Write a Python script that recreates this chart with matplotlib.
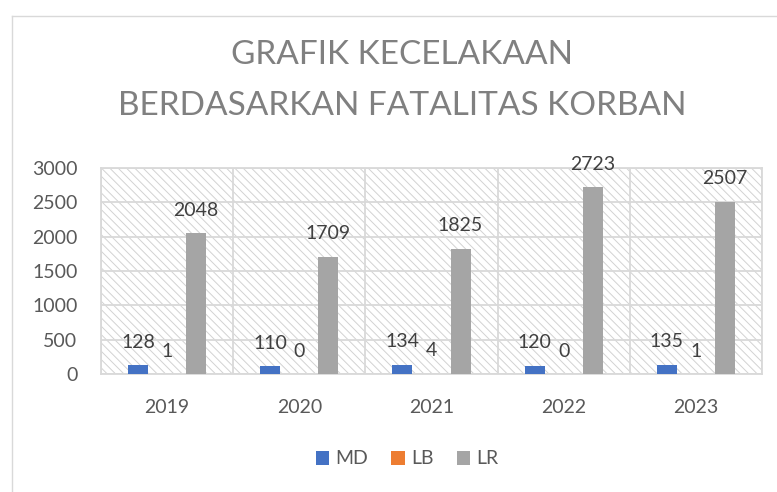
import matplotlib
matplotlib.use("Agg")
import matplotlib.pyplot as plt
import numpy as np
from matplotlib.patches import Rectangle
from matplotlib.lines import Line2D

plt.rcParams['font.family'] = ['Lato', 'DejaVu Sans']
plt.rcParams['hatch.linewidth'] = 0.7

years = ["2019", "2020", "2021", "2022", "2023"]
series_names = ["MD", "LB", "LR"]
md = [128, 110, 134, 120, 135]
lb = [1, 0, 4, 0, 1]
lr = [2048, 1709, 1825, 2723, 2507]
colors = ["#4472C4", "#ED7D31", "#A5A5A5"]
yticks = [0, 500, 1000, 1500, 2000, 2500, 3000]
title_lines = ["GRAFIK KECELAKAAN", "BERDASARKAN FATALITAS KORBAN"]

W, H = 777, 492
fig = plt.figure(figsize=(W / 100, H / 100), dpi=100)
ax = fig.add_axes([101 / W, 1 - 374 / H, (762 - 101) / W, (374 - 168) / H])

# chart border
fig.add_artist(Line2D([12 / W, 12 / W], [0, 1 - 16 / H], transform=fig.transFigure,
                      color="#d9d9d9", lw=1.0))
fig.add_artist(Line2D([12 / W, 1], [1 - 16 / H, 1 - 16 / H], transform=fig.transFigure,
                      color="#d9d9d9", lw=1.0))

# hatched plot area
ax.add_patch(Rectangle((0, 0), 1, 1, transform=ax.transAxes, facecolor="white",
                       edgecolor="#d2d2d2", hatch="\\\\\\\\", lw=0, zorder=0))

x = np.arange(len(years))
offsets = [-0.22, 0.0, 0.22]
width = 0.152
for vals, off, col, name in zip([md, lb, lr], offsets, colors, series_names):
    ax.bar(x + off, vals, width, color=col, label=name, zorder=3)
    for xi, v in zip(x + off, vals):
        ax.annotate(str(v), (xi, v), xytext=(0, 16.5), textcoords="offset points",
                    ha="center", va="center", fontsize=14, color="#404040", zorder=4)

ax.set_xlim(-0.5, len(years) - 0.5)
ax.set_ylim(0, 3000)
ax.set_yticks(yticks)
ax.set_xticks(x)
ax.set_xticklabels(years)
ax.set_xticks(np.arange(len(years) + 1) - 0.5, minor=True)
ax.grid(True, which="major", axis="y", color="#d9d9d9", lw=1.3, zorder=1)
ax.grid(True, which="minor", axis="x", color="#d9d9d9", lw=1.3, zorder=1)
ax.tick_params(axis="both", which="both", length=0, labelsize=14, colors="#595959")
ax.tick_params(axis="y", pad=17)
ax.tick_params(axis="x", pad=18)
for s in ax.spines.values():
    s.set_color("#d9d9d9")
    s.set_linewidth(1.3)
ax.set_axisbelow(True)

for i, t in enumerate(title_lines):
    fig.text(402 / W, 1 - (55 + 51 * i) / H, t, ha="center", va="center",
             fontsize=24, color="#808080")

leg = fig.legend(loc="center", bbox_to_anchor=(407 / W, 1 - 459 / H), ncol=3,
                 frameon=False, fontsize=14, handlelength=0.7, handleheight=0.7,
                 handletextpad=0.3, columnspacing=1.2)
for t in leg.get_texts():
    t.set_color("#595959")

fig.savefig("out.png", dpi=100)
